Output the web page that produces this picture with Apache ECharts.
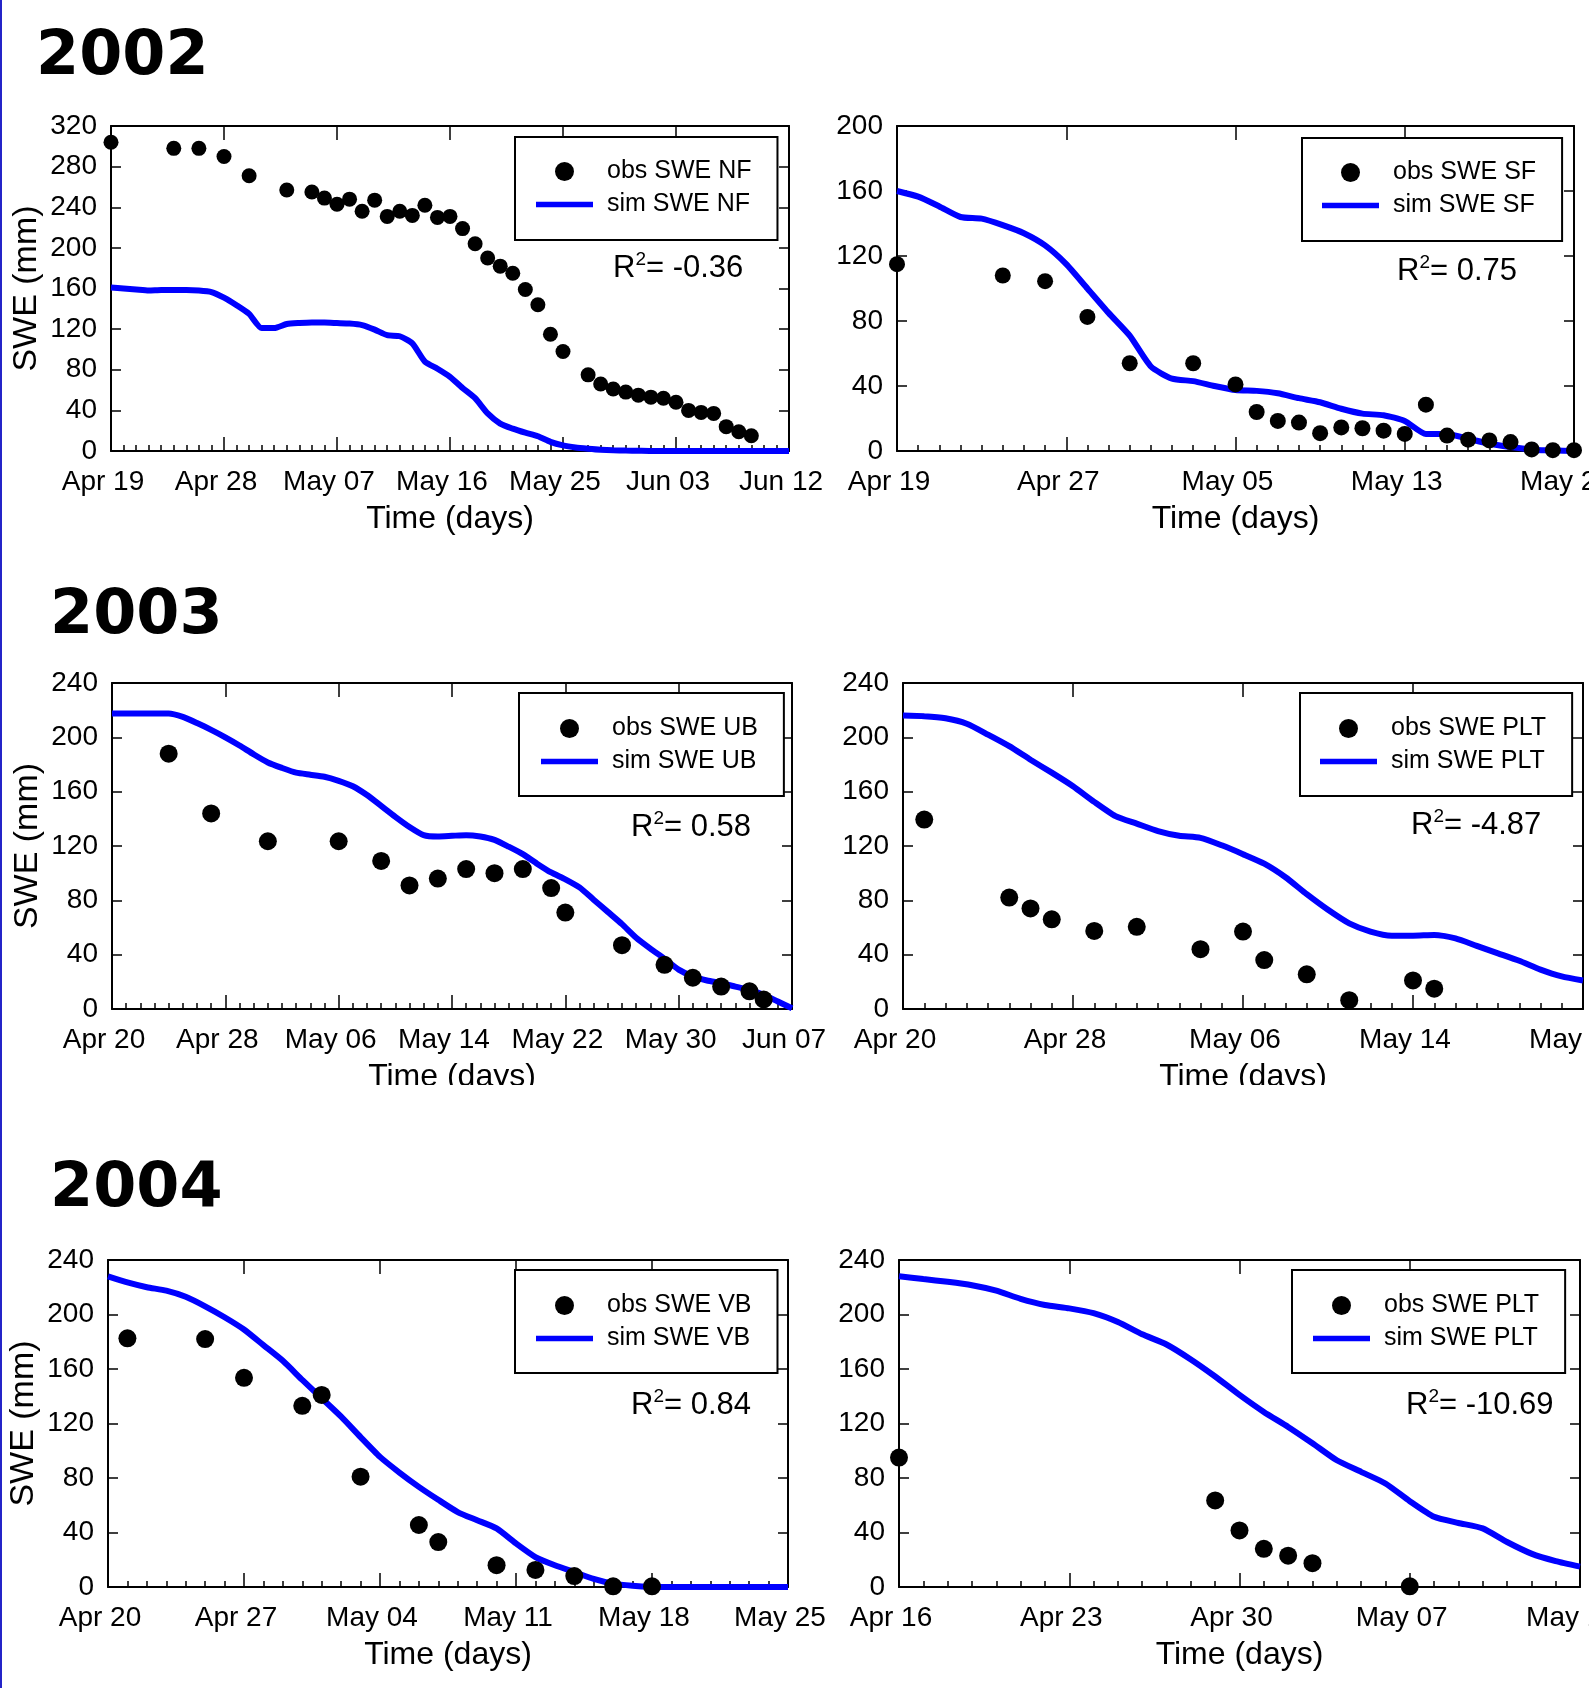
<!DOCTYPE html>
<html>
<head>
<meta charset="utf-8">
<script src="https://cdn.jsdelivr.net/npm/echarts@6.0.0/dist/echarts.min.js"></script>
<style>
  html, body { margin: 0; padding: 0; background: #fff; }
  #main { width: 1589px; height: 1688px; }
</style>
</head>
<body>
<div id="main"></div>
<script>
// 2002 NF, x = days after Apr 19
const nfTicks = ["Apr 19", "Apr 28", "May 07", "May 16", "May 25", "Jun 03", "Jun 12"]
const nfObsDay = [0, 5, 7, 9, 11, 14, 16, 17, 18, 19, 20, 21, 22, 23, 24, 25, 26, 27, 28, 29, 30, 31, 32, 33, 34, 35, 36, 38, 39, 40, 41, 42, 43, 44, 45, 46, 47, 48, 49, 50, 51]
const nfObs = [304, 298, 298, 290, 271, 257, 255, 249, 243, 248, 236, 247, 231, 236, 232, 242, 230, 231, 219, 204, 190, 182, 175, 159, 144, 115, 98, 75, 66, 61, 58, 55, 53, 52, 48, 40, 38, 37, 24, 19, 15]
const nfSim = [161, 160, 159, 158, 158.5, 158.5, 158.5, 158, 156.5, 151, 143.5, 135, 121, 121, 125, 126, 126.5, 126.5, 126, 125.5, 124, 119.5, 114, 113, 106, 88, 81, 73, 62, 52, 37, 27, 22, 18, 14.5, 9, 5.5, 3.5, 2.3, 1.3, 0.7, 0.4, 0.2, 0, 0, 0, 0, 0, 0, 0, 0, 0, 0, 0, 0]

// 2002 SF, x = days after Apr 19
const sfTicks = ["Apr 19", "Apr 27", "May 05", "May 13", "May 21"]
const sfObsDay = [0, 5, 7, 9, 11, 14, 16, 17, 18, 19, 20, 21, 22, 23, 24, 25, 26, 27, 28, 29, 30, 31, 32]
const sfObs = [115, 108, 104.5, 82.5, 54, 54, 41, 24, 18.5, 17.5, 11, 14.5, 14, 12.5, 10.5, 28.5, 9.5, 7, 6.5, 5.5, 1, 0.5, 0.5]
const sfSim = [160, 156.5, 150.5, 144, 143, 139, 134, 126.5, 115, 100, 85, 71, 52, 44.5, 43, 40, 37.5, 37, 35.5, 32.5, 30, 26, 23, 22, 18.5, 10.5, 10.5, 7.5, 4.5, 2.5, 0.8, 0.4, 0]

// 2003 UB, x = days after Apr 20
const ubTicks = ["Apr 20", "Apr 28", "May 06", "May 14", "May 22", "May 30", "Jun 07"]
const ubObsDay = [4, 7, 11, 16, 19, 21, 23, 25, 27, 29, 31, 32, 36, 39, 41, 43, 45, 46]
const ubObs = [188, 144, 123.5, 123.5, 109, 91, 96, 103, 100, 103, 89, 71, 47, 32.5, 23, 16.5, 13, 7]
const ubSim = [217.5, 217.5, 217.5, 217.5, 217.5, 215, 210.5, 205.5, 200, 194, 187.5, 181.5, 177.5, 174, 172.5, 171, 168, 164, 157.5, 149.5, 141.5, 134, 128, 127, 127.5, 128, 127, 124.5, 119.5, 114, 107, 100.5, 95.5, 89.5, 80.5, 71.5, 62.5, 52.5, 44.5, 37, 29, 24, 21, 19, 16.5, 14, 10.5, 5.5, 0.5]

// 2003 PLT, x = days after Apr 20
const plt3Ticks = ["Apr 20", "Apr 28", "May 06", "May 14", "May 22"]
const plt3ObsDay = [1, 5, 6, 7, 9, 11, 14, 16, 17, 19, 21, 24, 25]
const plt3Obs = [139.5, 82, 74, 66, 57.5, 60.5, 44, 57, 36, 25.5, 6.5, 21, 15]
const plt3Sim = [216, 215.5, 214, 210, 202, 193.5, 183.5, 174, 164, 152.5, 142, 136.5, 131, 127.5, 126, 120.5, 114, 107, 97, 84.5, 73, 63, 57, 54, 54, 54.5, 52, 46.5, 41, 35.5, 29, 24, 21]

// 2004 VB, x = days after Apr 20
const vbTicks = ["Apr 20", "Apr 27", "May 04", "May 11", "May 18", "May 25"]
const vbObsDay = [1, 5, 7, 10, 11, 13, 16, 17, 20, 22, 24, 26, 28]
const vbObs = [182.5, 182, 153.5, 133, 141, 81, 45.5, 33, 16, 12.5, 8, 0.5, 0.5]
const vbSim = [228, 223.5, 220, 217.5, 213, 206, 198, 189, 177.5, 166, 152, 138.5, 125, 110, 95.5, 84, 73.5, 64, 55, 49, 43, 32, 22, 16, 11, 6, 2.5, 1, 0.2, 0, 0, 0, 0, 0, 0, 0]

// 2004 PLT, x = days after Apr 16
const plt4Ticks = ["Apr 16", "Apr 23", "Apr 30", "May 07", "May 14"]
const plt4ObsDay = [0, 13, 14, 15, 16, 17, 21]
const plt4Obs = [95, 63.5, 41.5, 28, 23, 17.5, 0.5]
const plt4Sim = [228, 226, 224, 221.5, 217.5, 211.5, 207, 204.5, 201, 194.5, 185.5, 178, 167, 154.5, 141, 128.5, 117.5, 105.5, 93, 84.5, 76, 63, 51.5, 47, 43, 33, 24.5, 19, 15]

const years = ["2002", "2003", "2004"]
const r2Values = ["-0.36", "0.75", "0.58", "-4.87", "0.84", "-10.69"]

const font = "'Liberation Sans', Arial, sans-serif"

// layout of each panel (grid box, legend box, R2 text)
const panels = [
  { grid: [111, 126, 678, 325], xMax: 54, xStep: 9, ticks: nfTicks, yMax: 320, yName: "SWE (mm)",
    obsDay: nfObsDay, obs: nfObs, sim: nfSim, obsName: "obs SWE NF", simName: "sim SWE NF", dot: 15,
    legend: [515, 137, 18, 19, 21], r2Pos: [613, 250] },
  { grid: [897, 126, 677, 325], xMax: 32, xStep: 8, ticks: sfTicks, yMax: 200, yName: "",
    obsDay: sfObsDay, obs: sfObs, sim: sfSim, obsName: "obs SWE SF", simName: "sim SWE SF", dot: 16,
    legend: [1302, 138, 18, 19, 20], r2Pos: [1397, 253] },
  { grid: [112, 683, 680, 326], xMax: 48, xStep: 8, ticks: ubTicks, yMax: 240, yName: "SWE (mm)",
    obsDay: ubObsDay, obs: ubObs, sim: ubSim, obsName: "obs SWE UB", simName: "sim SWE UB", dot: 18,
    legend: [519, 693, 19, 18, 22], r2Pos: [631, 809] },
  { grid: [903, 683, 680, 326], xMax: 32, xStep: 8, ticks: plt3Ticks, yMax: 240, yName: "",
    obsDay: plt3ObsDay, obs: plt3Obs, sim: plt3Sim, obsName: "obs SWE PLT", simName: "sim SWE PLT", dot: 18,
    legend: [1300, 693, 19, 18, 20], r2Pos: [1411, 807] },
  { grid: [108, 1260, 680, 327], xMax: 35, xStep: 7, ticks: vbTicks, yMax: 240, yName: "SWE (mm)",
    obsDay: vbObsDay, obs: vbObs, sim: vbSim, obsName: "obs SWE VB", simName: "sim SWE VB", dot: 18,
    legend: [515, 1270, 19, 18, 21], r2Pos: [631, 1387] },
  { grid: [899, 1260, 681, 327], xMax: 28, xStep: 7, ticks: plt4Ticks, yMax: 240, yName: "",
    obsDay: plt4ObsDay, obs: plt4Obs, sim: plt4Sim, obsName: "obs SWE PLT", simName: "sim SWE PLT", dot: 18,
    legend: [1292, 1270, 19, 18, 21], r2Pos: [1406, 1387] }
]

const black = "#000"
const blue = "#0000ff"
const option = {
  animation: false,
  backgroundColor: "#fff",
  grid: [], xAxis: [], yAxis: [], series: [], legend: [],
  title: [
    { text: years[0], left: 36, top: 23 },
    { text: years[1], left: 50, top: 582 },
    { text: years[2], left: 50, top: 1155 }
  ].map(t => ({ ...t, padding: 0,
    textStyle: { fontFamily: "'DejaVu Sans'", fontWeight: "bold", fontSize: 62, lineHeight: 70, color: black } })),
  graphic: [
    // second row axis titles are cut off in the original
    { type: "rect", left: 3, top: 1085, shape: { width: 1589, height: 40 }, style: { fill: "#fff" }, z: 100 },
    // thin blue frame line on the left edge
    { type: "rect", left: 0, top: 0, shape: { width: 2, height: 1688 }, style: { fill: "#2424c8" }, z: 101 }
  ]
}

panels.forEach((p, i) => {
  option.grid.push({ left: p.grid[0], top: p.grid[1], width: p.grid[2], height: p.grid[3],
    containLabel: false, outerBoundsMode: "none" })

  const xBase = { type: "value", gridIndex: i, min: 0, max: p.xMax, interval: p.xStep,
    axisLine: { onZero: false, lineStyle: { color: black, width: 2 } }, splitLine: { show: false },
    axisTick: { inside: true, length: 14, lineStyle: { color: black, width: 1.5 } } }
  option.xAxis.push({ ...xBase, position: "bottom",
    minorTick: { show: true, splitNumber: p.xStep, length: 6, lineStyle: { color: black, width: 1.5 } },
    axisLabel: { color: black, fontFamily: font, fontSize: 28, lineHeight: 30, margin: 16, padding: [0, 16, 0, 0],
      formatter: v => p.ticks[Math.round(v / p.xStep)] },
    name: "Time (days)", nameLocation: "middle", nameGap: 50, nameMoveOverlap: false,
    nameTextStyle: { color: black, fontFamily: font, fontSize: 32, lineHeight: 36 } })
  option.xAxis.push({ ...xBase, position: "top", axisLabel: { show: false } })

  const yBase = { type: "value", gridIndex: i, min: 0, max: p.yMax, interval: 40,
    axisLine: { onZero: false, lineStyle: { color: black, width: 2 } }, splitLine: { show: false },
    axisTick: { inside: true, length: 10, lineStyle: { color: black, width: 1.5 } } }
  option.yAxis.push({ ...yBase, position: "left",
    axisLabel: { color: black, fontFamily: font, fontSize: 28, margin: 14 },
    name: p.yName, nameLocation: "middle", nameRotate: 90, nameGap: 66, nameMoveOverlap: false,
    nameTextStyle: { color: black, fontFamily: font, fontSize: 34, lineHeight: 36 } })
  option.yAxis.push({ ...yBase, position: "right", axisLabel: { show: false } })

  option.series.push({
    name: p.simName, type: "line", xAxisIndex: 2 * i, yAxisIndex: 2 * i,
    data: p.sim.map((v, d) => [d, v]), showSymbol: false, symbol: "none",
    smooth: 0.2,
    lineStyle: { color: blue, width: 6, opacity: 1 }, itemStyle: { color: blue }, z: 2
  })
  option.series.push({
    name: p.obsName, type: "scatter", xAxisIndex: 2 * i, yAxisIndex: 2 * i,
    data: p.obsDay.map((d, k) => [d, p.obs[k]]), symbol: "circle", symbolSize: p.dot,
    itemStyle: { color: black, opacity: 1 }, clip: false, z: 3
  })

  option.legend.push({
    data: [
      { name: p.obsName, icon: "circle", itemStyle: { color: black, opacity: 1 } },
      // plain thick bar for the simulated line
      { name: p.simName, icon: "path://M0,0L57,0L57,5.5L0,5.5Z", itemStyle: { color: blue, opacity: 1 } }
    ],
    orient: "vertical", left: p.legend[0], top: p.legend[1],
    padding: [p.legend[2], 26, p.legend[3], p.legend[4]],
    itemWidth: 57, itemHeight: 19, itemGap: 0, selectedMode: false,
    backgroundColor: "#fff", borderColor: black, borderWidth: 2, borderRadius: 0,
    textStyle: { color: black, fontFamily: font, fontSize: 25, lineHeight: 33, padding: [0, 0, 0, 9] }
  })

  option.title.push({ text: "{r|R}{s|2}{r|= " + r2Values[i] + "}", left: p.r2Pos[0], top: p.r2Pos[1], padding: 0,
    textStyle: { fontWeight: "normal", rich: {
      r: { color: black, fontFamily: font, fontWeight: "normal", fontSize: 31, lineHeight: 36 },
      s: { color: black, fontFamily: font, fontWeight: "normal", fontSize: 19, lineHeight: 36, verticalAlign: "top" }
    } } })
})

const chart = echarts.init(document.getElementById("main"))
chart.setOption(option)
</script>
</body>
</html>
